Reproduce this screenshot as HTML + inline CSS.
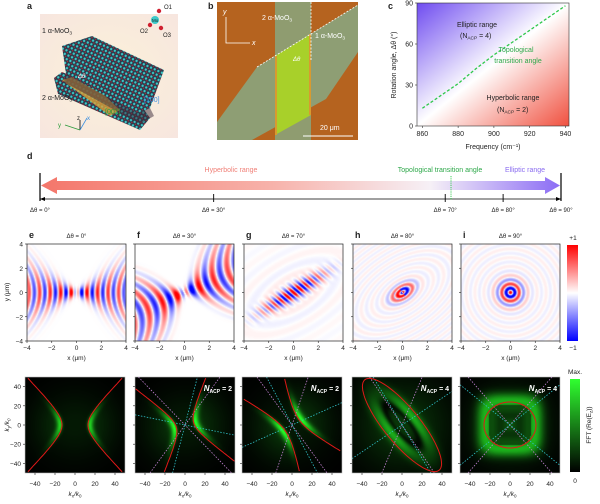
<!DOCTYPE html>
<html><head><meta charset="utf-8"><style>
body{margin:0;background:#fff}
#root{position:relative;width:600px;height:504px;overflow:hidden;font-family:"Liberation Sans",sans-serif}
canvas{position:absolute}
svg{position:absolute;left:0;top:0}
text{font-family:"Liberation Sans",sans-serif}
</style></head><body>
<div id="root">
<canvas id="cv-e"></canvas>
<canvas id="cv-f"></canvas>
<canvas id="cv-g"></canvas>
<canvas id="cv-h"></canvas>
<canvas id="cv-i"></canvas>
<canvas id="ft-e"></canvas>
<canvas id="ft-f"></canvas>
<canvas id="ft-g"></canvas>
<canvas id="ft-h"></canvas>
<canvas id="ft-i"></canvas>
<svg id="svg" width="600" height="504" viewBox="0 0 600 504">
<defs>
<pattern id="dots" width="4" height="4" patternUnits="userSpaceOnUse" patternTransform="rotate(25)">
<rect width="4" height="4" fill="#2a3a4a"/><circle cx="1.5" cy="1.5" r="1.2" fill="#3cc9c9"/><circle cx="3.3" cy="3.3" r="0.7" fill="#c0283a"/></pattern>
<linearGradient id="cgrad" x1="0" y1="0" x2="1" y2="1"><stop offset="0" stop-color="#6f4cf0"/><stop offset="0.5" stop-color="#ffffff"/><stop offset="1" stop-color="#f0503f"/></linearGradient>
<linearGradient id="dgrad" x1="0" y1="0" x2="1" y2="0"><stop offset="0" stop-color="#f4766a"/><stop offset="0.45" stop-color="#f7b3ab"/><stop offset="0.75" stop-color="#f6f0f6"/><stop offset="1" stop-color="#8b6cf5"/></linearGradient>
<linearGradient id="rbgrad" x1="0" y1="0" x2="0" y2="1"><stop offset="0" stop-color="#ff0000"/><stop offset="0.5" stop-color="#ffffff"/><stop offset="1" stop-color="#0000ff"/></linearGradient>
<linearGradient id="ggrad" x1="0" y1="0" x2="0" y2="1"><stop offset="0" stop-color="#30ff30"/><stop offset="1" stop-color="#000"/></linearGradient>
<radialGradient id="cream" cx="0.5" cy="0.5" r="0.7"><stop offset="0" stop-color="#fbf1d8"/><stop offset="1" stop-color="#f7e6df"/></radialGradient>
</defs>
</svg>
</div>
<script>
// ---- data ----
const cFreq=[860,870,880,890,900,910,920,930,940];
const cAngle=[13,22,31,42,52,61,70,79,88];
const cXTicks=[860,880,900,920,940];
const cYTicks=[0,30,60,90];
const dAngles=[0,30,70,80,90];
const dTransition=71;
const fieldLetters=['e','f','g','h','i'];
const fieldAngles=[0,30,70,80,90];
const xTicks=[-4,-2,0,2,4];
const kTicks=[-40,-20,0,20,40];
const nacp=[null,2,2,4,4];
const purpleLines=[[],[-47,55],[-55,72],[-57,68],[50,-50]];
const cyanLines=[[],[-12,76],[25,-63],[35,-60],[40,-40]];

const NS='http://www.w3.org/2000/svg';
const svg=document.getElementById('svg');
function el(tag,attrs,parent){const e=document.createElementNS(NS,tag);for(const k in attrs)e.setAttribute(k,attrs[k]);(parent||svg).appendChild(e);return e;}
function txt(x,y,s,attrs,parent){const t=el('text',Object.assign({x:x,y:y,'font-size':7,fill:'#222'},attrs||{}),parent);t.textContent=s;return t;}
function subTxt(x,y,base,sub,rest,attrs,parent){const t=el('text',Object.assign({x:x,y:y,'font-size':7,fill:'#222'},attrs||{}),parent);
 const a=el('tspan',{},t);a.textContent=base;const b=el('tspan',{'font-size':'0.68em',dy:'1.5'},t);b.textContent=sub;
 if(rest){const c=el('tspan',{dy:'-1.5'},t);c.textContent=rest;}return t;}

// ---- panel a ----
const ga=el('g',{});


el('rect',{x:40,y:14,width:138,height:124,fill:'url(#cream)'},ga);
el('polygon',{points:'54,78 62,72 140,104 150,118 140,130 58,94',fill:'url(#dots)'},ga);
el('polygon',{points:'62,80 82,74 120,110 110,116',fill:'#d9a23a',opacity:0.8},ga);
el('polygon',{points:'62,46 92,36 164,70 150,108 138,114 66,74',fill:'url(#dots)'},ga);
el('polygon',{points:'66,74 138,114 150,108 154,116 140,124 64,82',fill:'#3a2a3a',opacity:0.5},ga);
txt(27,9,'a',{'font-weight':'bold','font-size':9},ga);
subTxt(42,33,'1 α-MoO','3','',{},ga);
subTxt(42,100,'2 α-MoO','3','',{},ga);
txt(144,102,'[100]',{fill:'#3a8fe0'},ga);txt(105,114,'[001]',{fill:'#2a9a3a'},ga);
el('circle',{cx:155,cy:20,r:4,fill:'#3cc9c9'},ga);
el('circle',{cx:159,cy:11,r:2.2,fill:'#d02030'},ga);el('circle',{cx:150,cy:25,r:2.2,fill:'#d02030'},ga);el('circle',{cx:161,cy:28,r:2.2,fill:'#d02030'},ga);
txt(164,9,'O1',{'font-size':6},ga);txt(140,33,'O2',{'font-size':6},ga);txt(163,37,'O3',{'font-size':6},ga);txt(152,22,'Mo',{'font-size':4.5},ga);
el('line',{x1:80,y1:130,x2:80,y2:120,stroke:'#000','stroke-width':0.8},ga);txt(77,120,'z',{'font-size':6},ga);
el('line',{x1:80,y1:130,x2:87,y2:118,stroke:'#3a8fe0','stroke-width':0.8},ga);txt(87,120,'x',{'font-size':6,fill:'#3a8fe0'},ga);
el('line',{x1:80,y1:130,x2:65,y2:125,stroke:'#2a9a3a','stroke-width':0.8},ga);txt(58,127,'y',{'font-size':6,fill:'#2a9a3a'},ga);
txt(78,78,'Δθ',{'font-size':6,fill:'#fff','font-style':'italic'},ga);

// ---- panel b ----
const gb=el('g',{});


el('rect',{x:217,y:2,width:141,height:138,fill:'#b5631f'},gb);
el('rect',{x:275,y:2,width:36,height:138,fill:'#8f9c70'},gb);
el('polygon',{points:'217,122 257,67 358,5 358,52 326,99 252,140 217,140',fill:'#8e9e74'},gb);
el('polygon',{points:'275,56 311,34 311,115 275,135',fill:'#a8d02a'},gb);
el('line',{x1:276,y1:56,x2:276,y2:135,stroke:'#d89a30','stroke-width':2},gb);
el('line',{x1:310,y1:34,x2:310,y2:115,stroke:'#d89a30','stroke-width':2},gb);
el('line',{x1:311,y1:2,x2:311,y2:60,stroke:'#fff','stroke-width':0.8,'stroke-dasharray':'2,1.5'},gb);
el('line',{x1:257,y1:67,x2:358,y2:5,stroke:'#fff','stroke-width':0.8,'stroke-dasharray':'2,1.5'},gb);
txt(208,9,'b',{'font-weight':'bold','font-size':9},gb);
el('polyline',{points:'226,17 226,43 250,43',fill:'none',stroke:'#fff','stroke-width':0.8},gb);
txt(223,14,'y',{fill:'#fff','font-style':'italic'},gb);txt(252,45,'x',{fill:'#fff','font-style':'italic'},gb);
subTxt(262,20,'2 α-MoO','3','',{fill:'#fff'},gb);
subTxt(315,38,'1 α-MoO','3','',{fill:'#fff'},gb);
txt(293,61,'Δθ',{fill:'#fff','font-size':6,'font-style':'italic'},gb);
el('line',{x1:303,y1:136,x2:353,y2:136,stroke:'#fff','stroke-width':1},gb);
txt(320,130,'20 μm',{fill:'#fff'},gb);

// ---- panel c ----
const cx0=417,cx1=569,cy0=126,cy1=3;
function cX(f){return cx0+(f-857)/(942-857)*(cx1-cx0);}
function cY(a){return cy0+(a/90)*(cy1-cy0);}
const gc=el('g',{});


el('rect',{x:cx0,y:cy1,width:cx1-cx0,height:cy0-cy1,fill:'url(#cgrad)',stroke:'#333','stroke-width':0.6},gc);
const cline=el('polyline',{points:cFreq.map((f,i)=>cX(f)+','+cY(cAngle[i])).join(' '),fill:'none',stroke:'#2ec84a','stroke-width':1.3,'stroke-dasharray':'3,2'},gc);


cXTicks.forEach(t=>{el('line',{x1:cX(t),y1:cy0,x2:cX(t),y2:cy0+2,stroke:'#333','stroke-width':0.6},gc);txt(cX(t),136,t,{'text-anchor':'middle'},gc);});
cYTicks.forEach(t=>{el('line',{x1:cx0,y1:cY(t),x2:cx0-2,y2:cY(t),stroke:'#333','stroke-width':0.6},gc);txt(cx0-4,cY(t)+2.5,t,{'text-anchor':'end'},gc);});
txt(388,9,'c',{'font-weight':'bold','font-size':9},gc);
txt(493,149,'Frequency (cm⁻¹)',{'text-anchor':'middle'},gc);
txt(0,0,'Rotation angle, Δθ (°)',{'text-anchor':'middle',transform:'translate(396,65) rotate(-90)'},gc);
txt(477,27,'Elliptic range',{'text-anchor':'middle'},gc);
subTxt(460,38,'(N','ACP',' = 4)',{},gc);
txt(516,52,'Topological',{'text-anchor':'middle',fill:'#2ea84a'},gc);
txt(518,63,'transition angle',{'text-anchor':'middle',fill:'#2ea84a'},gc);
txt(513,100,'Hyperbolic range',{'text-anchor':'middle'},gc);
subTxt(497,112,'(N','ACP',' = 2)',{},gc);

// ---- panel d ----
const dx0=40,dx1=561;
function dX(a){return dx0+a/90*(dx1-dx0);}
const gd=el('g',{});


txt(27,159,'d',{'font-weight':'bold','font-size':9},gd);
const arr=el('polygon',{points:`${dX(0)+1},185.5 57,177 57,181 545,181 545,177 ${dX(90)-1},185.5 545,194 545,190 57,190 57,194`,fill:'url(#dgrad)'},gd);


el('line',{x1:dX(0),y1:173,x2:dX(0),y2:201,stroke:'#000','stroke-width':1.2},gd);
el('line',{x1:dX(90),y1:173,x2:dX(90),y2:201,stroke:'#000','stroke-width':1.2},gd);
el('line',{x1:dX(0),y1:199,x2:dX(90),y2:199,stroke:'#000','stroke-width':0.8},gd);
el('polygon',{points:`${dX(0)},199 ${dX(0)+5},197 ${dX(0)+5},201`,fill:'#000'},gd);
el('polygon',{points:`${dX(90)},199 ${dX(90)-5},197 ${dX(90)-5},201`,fill:'#000'},gd);
dAngles.forEach(a=>{if(a>0&&a<90)el('line',{x1:dX(a),y1:194,x2:dX(a),y2:202,stroke:'#000','stroke-width':0.9},gd);
 txt(dX(a),212,'Δθ = '+a+'°',{'text-anchor':'middle','font-size':6},gd);});
el('line',{x1:dX(dTransition),y1:176,x2:dX(dTransition),y2:200,stroke:'#2ec84a','stroke-width':0.9,'stroke-dasharray':'1.2,1'},gd);
txt(231,172,'Hyperbolic range',{'text-anchor':'middle',fill:'#f08078'},gd);
txt(440,172,'Topological transition angle',{'text-anchor':'middle',fill:'#2ea84a'},gd);
txt(525,172,'Elliptic range',{'text-anchor':'middle',fill:'#8a6cf0'},gd);

// ---- rows e-i ----
const r2X=[27,135,244,353,461],r2Y=244,r2W=99,r2H=97;
const r3X=[25,135,242,352,460],r3Y=377,r3W=100,r3H=96;
function rot(x,y,deg){const a=deg*Math.PI/180,c=Math.cos(a),s=Math.sin(a);return [x*c+y*s,-x*s+y*c];}
function bowtie(u,v,period,curv,spread){
 const au=Math.abs(u);const s=au-curv*v*v;if(s<0.05)return 0;
 const env=Math.exp(-v*v/(0.15+spread*au*au))*(0.35+0.65*Math.exp(-au*0.35))*Math.min(1,s/0.3);
 return Math.cos(2*Math.PI*s/period)*env*Math.sign(u);}
function fieldVal(p,x,y){
 const TP=2*Math.PI;
 if(p===0)return bowtie(x,y,0.85,0.12,0.35);
 if(p===1){const [u,v]=rot(x,y,22);return 1.1*bowtie(u,v,1.3,0.18,0.55);}
 if(p===2){const [u,v]=rot(x,y,32);
  const core=Math.cos(TP*(u+0.3*v)/0.6)*Math.exp(-v*v/0.3)*Math.exp(-u*u/7);
  const rr=Math.sqrt(u*u/4+v*v);const ring=0.08*Math.cos(TP*rr/1.3)*Math.exp(-rr/3);return core+ring;}
 if(p===3){const [u,v]=rot(x,y,35);const rr=Math.sqrt(u*u+(v/0.55)*(v/0.55));
  return Math.cos(TP*rr/0.95)*(0.05+0.95*Math.exp(-rr*rr/1.0))*(rr<0.8?Math.sign(u):1);}
 const r=Math.sqrt(x*x+y*y);return Math.cos(TP*r/0.72)*(0.05+0.95*Math.exp(-r*r/0.9));
}
function rb(v){v=Math.max(-1,Math.min(1,v));if(v>=0)return [255,255*(1-v),255*(1-v)];return [255*(1+v),255*(1+v),255];}
function fftVal(p,x,y){
 const r2=x*x+y*y;let I=0;
 if(p<3){const [ang,a,b]=[[0,13,14],[15,9,12],[35,9,20]][p];
  const [u,v]=rot(x,y,ang);const G=u*u/(a*a)-v*v/(b*b)-1;const gx=2*u/(a*a),gy=2*v/(b*b);const d=G/Math.sqrt(gx*gx+gy*gy+1e-6);
  I=(d>0?Math.exp(-(d-2)*(d-2)/8):0.25*Math.exp(-d*d/4))*Math.exp(-r2/(2*16*16))*1.0+ (G>0?0.22:0.1)*Math.exp(-r2/(2*26*26));
 }else if(p===3){const [u,v]=rot(x,y,-52);const G=Math.sqrt(u*u/(58*58)+v*v/(17*17));
  I=0.55*Math.exp(-Math.pow(G-0.8,2)/0.12)*Math.exp(-r2/(2*28*28))+0.2*Math.exp(-r2/(2*32*32))-0.25*Math.exp(-Math.pow(G-0.45,2)/0.02);
  I=Math.max(0,I);
 }else{const s=Math.pow(Math.pow(Math.abs(x),4)+Math.pow(Math.abs(y),4),0.25);
  I=(s>21?0.6*Math.exp(-Math.pow(s-25,2)/70):0.12+0.06*Math.cos(s/3))+0.15*Math.exp(-r2/(2*30*30));
 }
 return I;}
function inBox(q){return Math.abs(q[0])<=50&&Math.abs(q[1])<=50;}
function redCurve(p){
 const out=[];
 if(p<3){const [ang,a,b]=[[0,13,14],[15,9,12],[35,9,20]][p];const A=ang*Math.PI/180,c=Math.cos(A),s=Math.sin(A);
  [1,-1].forEach(sg=>{const pts=[];for(let t=-2.6;t<=2.6;t+=0.04){const u=sg*a*Math.cosh(t),v=b*Math.sinh(t);const q=[u*c-v*s,u*s+v*c];if(inBox(q))pts.push(q);}out.push(pts);});
 }else if(p===3){const A=-52*Math.PI/180,c=Math.cos(A),s=Math.sin(A);const pts=[];
  for(let t=0;t<=6.3;t+=0.05){const u=60*Math.cos(t),v=18*Math.sin(t);pts.push([u*c-v*s,u*s+v*c]);}out.push(pts);
 }else{const pts=[];for(let t=0;t<=6.3;t+=0.05)pts.push([26*Math.cos(t),24*Math.sin(t)]);out.push(pts);}
 return out;}

fieldLetters.forEach((L,p)=>{
 const cv=document.getElementById('cv-'+L);cv.width=r2W;cv.height=r2H;cv.style.left=r2X[p]+'px';cv.style.top=r2Y+'px';
 const ctx=cv.getContext('2d');const im=ctx.createImageData(r2W,r2H);
 for(let j=0;j<r2H;j++)for(let i=0;i<r2W;i++){const x=-4+8*(i+0.5)/r2W,y=4-8*(j+0.5)/r2H;
  const c=rb(1.3*fieldVal(p,x,y));const k=4*(j*r2W+i);im.data[k]=c[0];im.data[k+1]=c[1];im.data[k+2]=c[2];im.data[k+3]=255;}
 ctx.putImageData(im,0,0);
 const g=el('g',{});
 
 
 el('rect',{x:r2X[p],y:r2Y,width:r2W,height:r2H,fill:'none',stroke:'#222','stroke-width':0.7},g);
 txt(r2X[p]+2,238,L,{'font-weight':'bold','font-size':9},g);
 txt(r2X[p]+r2W/2,238,'Δθ = '+fieldAngles[p]+'°',{'text-anchor':'middle','font-size':6},g);
 xTicks.forEach(t=>{const X=r2X[p]+(t+4)/8*r2W,Y=r2Y+(4-t)/8*r2H;
  el('line',{x1:X,y1:r2Y+r2H,x2:X,y2:r2Y+r2H+2,stroke:'#222','stroke-width':0.6},g);
  txt(X,350,t<0?'−'+(-t):t,{'text-anchor':'middle','font-size':6.5},g);
  el('line',{x1:r2X[p],y1:Y,x2:r2X[p]-2,y2:Y,stroke:'#222','stroke-width':0.6},g);
  if(p===0)txt(r2X[p]-4,Y+2.5,t<0?'−'+(-t):t,{'text-anchor':'end','font-size':6.5},g);});
 txt(r2X[p]+r2W/2,360,'x (μm)',{'text-anchor':'middle','font-size':6.5},g);

 const fc=document.getElementById('ft-'+L);fc.width=r3W;fc.height=r3H;fc.style.left=r3X[p]+'px';fc.style.top=r3Y+'px';
 const fx=fc.getContext('2d');const fim=fx.createImageData(r3W,r3H);
 for(let j=0;j<r3H;j++)for(let i=0;i<r3W;i++){const x=-50+100*(i+0.5)/r3W,y=50-100*(j+0.5)/r3H;
  const I=Math.min(1,fftVal(p,x,y));const k=4*(j*r3W+i);fim.data[k]=40*I;fim.data[k+1]=255*I;fim.data[k+2]=40*I;fim.data[k+3]=255;}
 fx.putImageData(fim,0,0);
 const g3=el('g',{});
 
 
 const KX=k=>r3X[p]+(k+50)/100*r3W, KY=k=>r3Y+(50-k)/100*r3H;
 function dline(a,color){const c=Math.cos(a*Math.PI/180),s=Math.sin(a*Math.PI/180);const tm=50/Math.max(Math.abs(c),Math.abs(s));
  el('line',{x1:KX(-tm*c),y1:KY(-tm*s),x2:KX(tm*c),y2:KY(tm*s),stroke:color,'stroke-width':0.8,'stroke-dasharray':'1.5,1.5'},g3);}
 purpleLines[p].forEach(a=>dline(a,'#c080d0'));
 cyanLines[p].forEach(a=>dline(a,'#30c0c8'));
 redCurve(p).forEach(pts=>{const pl=el('polyline',{points:pts.map(q=>KX(q[0]).toFixed(1)+','+KY(q[1]).toFixed(1)).join(' '),fill:'none',stroke:'#e01818','stroke-width':1},g3);
  
  });
 el('rect',{x:r3X[p],y:r3Y,width:r3W,height:r3H,fill:'none',stroke:'#bbb','stroke-width':0.6},g3);
 kTicks.forEach(t=>{el('line',{x1:KX(t),y1:r3Y+r3H,x2:KX(t),y2:r3Y+r3H+2,stroke:'#222','stroke-width':0.6},g3);
  txt(KX(t),486,t<0?'−'+(-t):t,{'text-anchor':'middle','font-size':6.5},g3);
  el('line',{x1:r3X[p],y1:KY(t),x2:r3X[p]-2,y2:KY(t),stroke:'#222','stroke-width':0.6},g3);
  if(p===0)txt(r3X[p]-4,KY(t)+2.5,t<0?'−'+(-t):t,{'text-anchor':'end','font-size':6.5},g3);});
 const xl=el('text',{x:r3X[p]+r3W/2,y:496,'font-size':6.5,fill:'#222','text-anchor':'middle','font-style':'italic'},g3);
 const t1=el('tspan',{},xl);t1.textContent='k';const t2=el('tspan',{'font-size':4.5,dy:1.5,'font-style':'normal'},xl);t2.textContent='x';
 const t3=el('tspan',{dy:-1.5},xl);t3.textContent='/k';const t4=el('tspan',{'font-size':4.5,dy:1.5,'font-style':'normal'},xl);t4.textContent='0';
 if(nacp[p]){const nt=el('text',{x:r3X[p]+r3W-3,y:391,'font-size':8,'font-weight':'bold',fill:'#fff','text-anchor':'end'},g3);
  const a1=el('tspan',{'font-style':'italic'},nt);a1.textContent='N';const a2=el('tspan',{'font-size':5,dy:2},nt);a2.textContent='ACP';
  const a3=el('tspan',{dy:-2,'font-size':7},nt);a3.textContent=' = '+nacp[p];}
});

const gt=el('g',{});


txt(0,0,'y (μm)',{'text-anchor':'middle','font-size':6.5,transform:'translate(9,292) rotate(-90)'},gt);
const yl=el('text',{'font-size':6.5,fill:'#222','text-anchor':'middle','font-style':'italic',transform:'translate(9,425) rotate(-90)'},gt);
const y1=el('tspan',{},yl);y1.textContent='k';const y2=el('tspan',{'font-size':4.5,dy:1.5},yl);y2.textContent='y';
const y3=el('tspan',{dy:-1.5},yl);y3.textContent='/k';const y4=el('tspan',{'font-size':4.5,dy:1.5},yl);y4.textContent='0';
const cb1=el('rect',{x:567,y:245,width:11,height:96,fill:'url(#rbgrad)'},gt);


txt(573,240,'+1',{'text-anchor':'middle','font-size':6.5},gt);txt(573,350,'−1',{'text-anchor':'middle','font-size':6.5},gt);
const cb2=el('rect',{x:570,y:379,width:10,height:93,fill:'url(#ggrad)'},gt);


txt(575,374,'Max.',{'text-anchor':'middle','font-size':6.5},gt);txt(575,483,'0',{'text-anchor':'middle','font-size':6.5},gt);
const fl=el('text',{'font-size':6.5,fill:'#222','text-anchor':'middle',transform:'translate(591,425) rotate(-90)'},gt);
const f1=el('tspan',{},fl);f1.textContent='FFT (Re(E';const f2=el('tspan',{'font-size':4.5,dy:1.5},fl);f2.textContent='z';const f3=el('tspan',{dy:-1.5},fl);f3.textContent='))';
</script>
</body></html>
